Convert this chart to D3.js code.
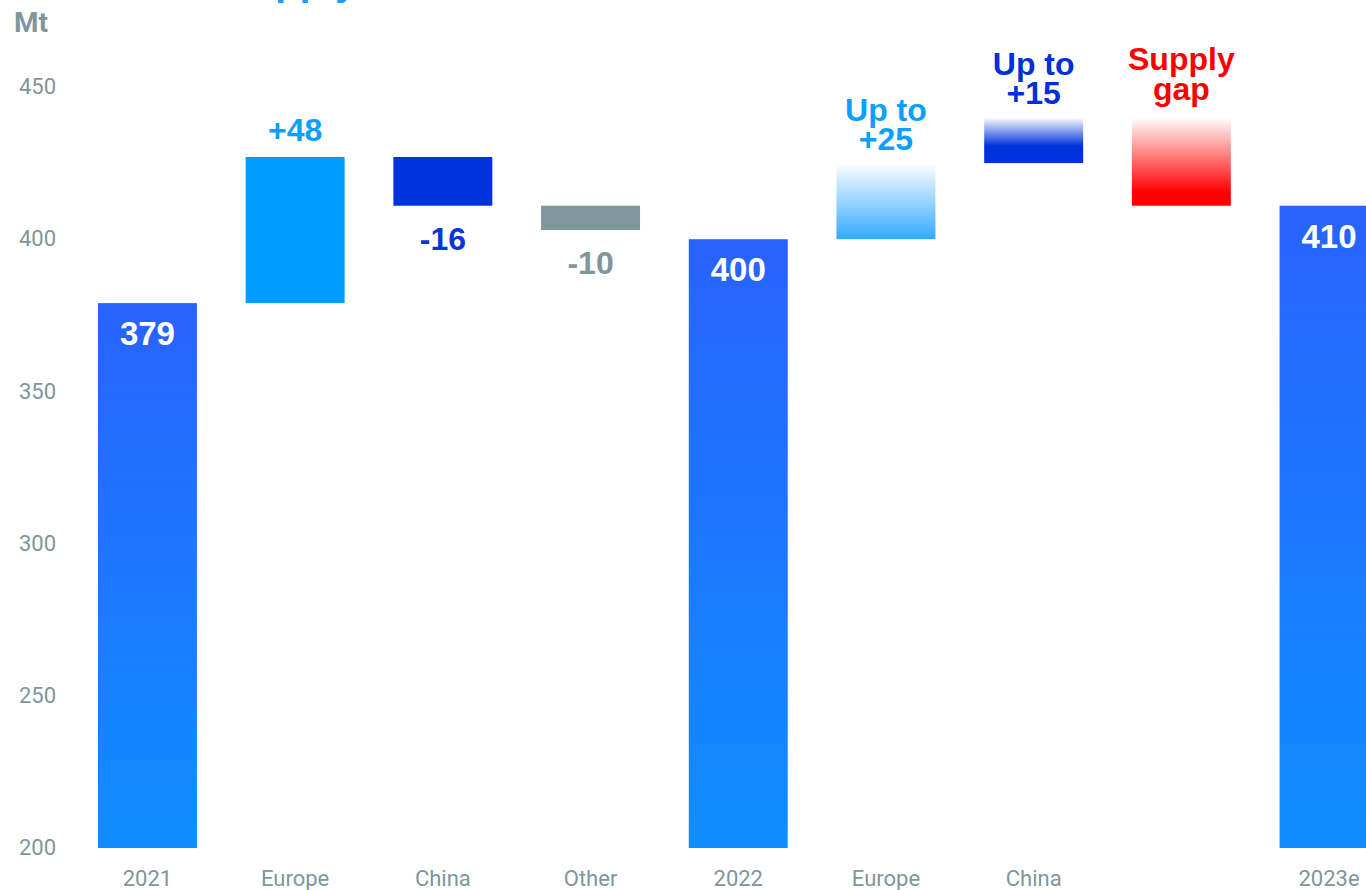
<!DOCTYPE html>
<html>
<head>
  <title>Supply gap waterfall</title>
  <style>
    body {
      background-color: white;
      margin: 0;
      padding: 0;
      overflow: hidden;
    }
    .tick-label {
      font-family: Roboto, "Noto Sans", sans-serif;
      font-size: 22px;
      fill: #7f969c;
    }
    .value-label {
      font-family: "Liberation Sans", Arial, sans-serif;
      font-weight: bold;
    }
  </style>
</head>
<body>
  <div id="chart-container"></div>

  <script src="https://d3js.org/d3.v7.min.js"></script>
  <script>
    // Waterfall data (Mt)
    const categories = ['2021', 'Europe', 'China', 'Other', '2022', 'Europe', 'China', '', '2023e'];
    const barStart = [200, 379, 427, 411, 200, 400, 425, 440, 200];
    const barEnd = [379, 427, 411, 403, 400, 425, 440, 411, 411];
    const barKind = ['total', 'up', 'down', 'other', 'total', 'maybeUp', 'maybeChina', 'gap', 'total'];
    const valueLabels = [['379'], ['+48'], ['-16'], ['-10'], ['400'], ['Up to', '+25'], ['Up to', '+15'], ['Supply', 'gap'], ['410']];
    const yTicks = [200, 250, 300, 350, 400, 450];

    const width = 1366;
    const height = 890;

    const svg = d3.select('#chart-container').append('svg')
      .attr('width', width)
      .attr('height', height);

    // gradients
    const defs = svg.append('defs');
    function addGradient(id, stops) {
      const g = defs.append('linearGradient')
        .attr('id', id)
        .attr('x1', 0).attr('y1', 0)
        .attr('x2', 0).attr('y2', 1);
      stops.forEach(s => {
        g.append('stop')
          .attr('offset', s[0])
          .attr('stop-color', s[1]);
      });
    }
    addGradient('grad-total', [[0, '#2962ff'], [1, '#0f8eff']]);
    addGradient('grad-maybeUp', [[0, '#ffffff'], [1, '#33a9ff']]);
    addGradient('grad-maybeChina', [[0, '#ffffff'], [0.62, '#0033dd'], [1, '#0033dd']]);
    addGradient('grad-gap', [[0, '#ffffff'], [0.85, '#ff0000'], [1, '#ff0000']]);

    const fills = {
      total: 'url(#grad-total)',
      up: '#009cff',
      down: '#0033dd',
      other: '#7f979c',
      maybeUp: 'url(#grad-maybeUp)',
      maybeChina: 'url(#grad-maybeChina)',
      gap: 'url(#grad-gap)'
    };
    const labelColors = {
      total: '#ffffff',
      up: '#0aa0ff',
      down: '#0a36d8',
      other: '#7f979c',
      maybeUp: '#0aa0ff',
      maybeChina: '#0030d8',
      gap: '#ff0000'
    };

    const x = d3.scaleBand()
      .domain(d3.range(categories.length))
      .range([73.6, 1402.9])
      .paddingInner(0.33)
      .paddingOuter(0.165);

    const y = d3.scaleLinear()
      .domain([200, 450])
      .range([848, 87]);

    // y axis
    const yAxis = svg.append('g')
      .attr('transform', 'translate(56,0)')
      .call(d3.axisLeft(y).tickValues(yTicks).tickSize(0).tickPadding(0));
    yAxis.select('.domain').remove();
    yAxis.selectAll('text')
      .attr('class', 'tick-label')
      .attr('text-anchor', 'end')
      .attr('dy', '0.3em');

    // x axis
    const xAxis = svg.append('g')
      .attr('transform', 'translate(0,869)')
      .call(d3.axisBottom(x).tickFormat(i => categories[i]).tickSize(0).tickPadding(0));
    xAxis.select('.domain').remove();
    xAxis.selectAll('text')
      .attr('class', 'tick-label')
      .attr('dy', '0.75em');

    // unit label
    svg.append('text')
      .attr('x', 14)
      .attr('y', 32)
      .style('font-family', 'Roboto, sans-serif')
      .style('font-weight', 'bold')
      .style('font-size', '28px')
      .style('fill', '#7f969c')
      .text('Mt');

    // cut-off title at the very top
    svg.append('text')
      .attr('x', 224)
      .attr('y', -5)
      .attr('class', 'value-label')
      .style('font-size', '40px')
      .style('fill', '#1a9cff')
      .text('Supply');

    const idx = d3.range(categories.length);

    // bars
    svg.selectAll('.bar')
      .data(idx)
      .enter()
      .append('rect')
      .attr('class', 'bar')
      .attr('x', i => x(i))
      .attr('width', x.bandwidth())
      .attr('y', i => y(Math.max(barStart[i], barEnd[i])))
      .attr('height', i => Math.abs(y(barStart[i]) - y(barEnd[i])))
      .style('fill', i => fills[barKind[i]]);

    // value labels
    function labelBaseline(i) {
      const top = y(Math.max(barStart[i], barEnd[i]));
      const bottom = y(Math.min(barStart[i], barEnd[i]));
      const kind = barKind[i];
      if (kind === 'total') return top + 42;
      if (kind === 'up') return top - 16;
      if (kind === 'down' || kind === 'other') return bottom + 44;
      if (kind === 'gap') return top - 17;
      return top - 13;
    }

    const labels = svg.selectAll('.value-label-g')
      .data(idx)
      .enter()
      .append('text')
      .attr('class', 'value-label')
      .attr('text-anchor', 'middle')
      .style('font-size', i => barKind[i] === 'total' ? '33px' : '32px')
      .style('fill', i => labelColors[barKind[i]]);

    labels.each(function (i) {
      const lines = valueLabels[i];
      const lineH = barKind[i] === 'gap' ? 30 : 29;
      const base = labelBaseline(i);
      const cx = x(i) + x.bandwidth() / 2;
      lines.forEach((t, k) => {
        d3.select(this).append('tspan')
          .attr('x', cx)
          .attr('y', base - (lines.length - 1 - k) * lineH)
          .text(t);
      });
    });
  </script>
</body>
</html>
